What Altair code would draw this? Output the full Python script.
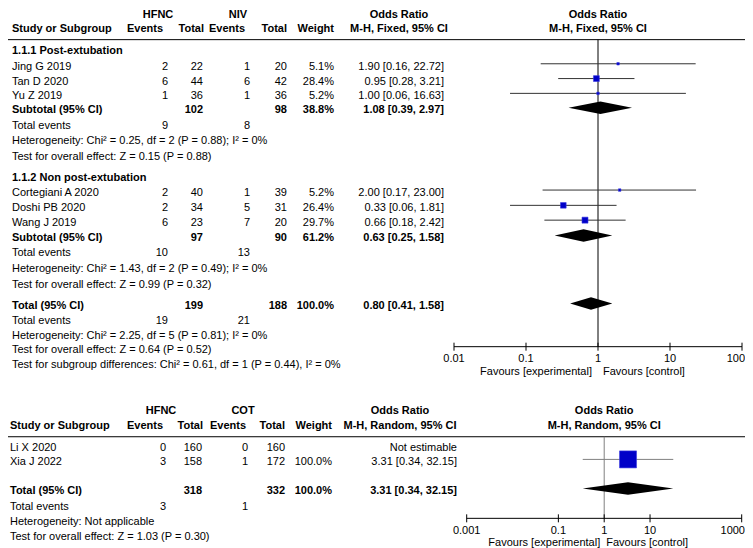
import altair as alt
import pandas as pd

# ---------------- data : comparison 1 (HFNC vs NIV) ----------------
subgroup_names = ["1.1.1 Post-extubation", "1.1.2 Non post-extubation"]
studies_1 = ["Jing G 2019", "Tan D 2020", "Yu Z 2019",
             "Cortegiani A 2020", "Doshi PB 2020", "Wang J 2019"]
subgroup_of_1 = [0, 0, 0, 1, 1, 1]
hfnc_events_1 = [2, 6, 1, 2, 2, 6]
hfnc_total_1 = [22, 44, 36, 40, 34, 23]
niv_events_1 = [1, 6, 1, 1, 5, 7]
niv_total_1 = [20, 42, 36, 39, 31, 20]
weight_1 = [5.1, 28.4, 5.2, 5.2, 26.4, 29.7]
or_1 = [1.90, 0.95, 1.00, 2.00, 0.33, 0.66]
lo_1 = [0.16, 0.28, 0.06, 0.17, 0.06, 0.18]
hi_1 = [22.72, 3.21, 16.63, 23.00, 1.81, 2.42]

sub_hfnc_total = [102, 97]
sub_niv_total = [98, 90]
sub_weight = [38.8, 61.2]
sub_or = [1.08, 0.63]
sub_lo = [0.39, 0.25]
sub_hi = [2.97, 1.58]
sub_hfnc_events = [9, 10]
sub_niv_events = [8, 13]
sub_het = ["Heterogeneity: Chi² = 0.25, df = 2 (P = 0.88); I² = 0%",
           "Heterogeneity: Chi² = 1.43, df = 2 (P = 0.49); I² = 0%"]
sub_test = ["Test for overall effect: Z = 0.15 (P = 0.88)",
            "Test for overall effect: Z = 0.99 (P = 0.32)"]

total1 = dict(hfnc_total=199, niv_total=188, weight=100.0, orr=0.80, lo=0.41, hi=1.58,
              hfnc_events=19, niv_events=21)
total1_het = "Heterogeneity: Chi² = 2.25, df = 5 (P = 0.81); I² = 0%"
total1_test = "Test for overall effect: Z = 0.64 (P = 0.52)"
total1_sgdiff = "Test for subgroup differences: Chi² = 0.61, df = 1 (P = 0.44), I² = 0%"
ticks_1 = [0.01, 0.1, 1, 10, 100]
tick_labels_1 = ["0.01", "0.1", "1", "10", "100"]

# ---------------- data : comparison 2 (HFNC vs COT) ----------------
studies_2 = ["Li X 2020", "Xia J 2022"]
hfnc_events_2 = [0, 3]
hfnc_total_2 = [160, 158]
cot_events_2 = [0, 1]
cot_total_2 = [160, 172]
weight_2 = [None, 100.0]
or_2 = [None, 3.31]
lo_2 = [None, 0.34]
hi_2 = [None, 32.15]
total2 = dict(hfnc_total=318, cot_total=332, weight=100.0, orr=3.31, lo=0.34, hi=32.15,
              hfnc_events=3, cot_events=1)
total2_het = "Heterogeneity: Not applicable"
total2_test = "Test for overall effect: Z = 1.03 (P = 0.30)"
ticks_2 = [0.001, 0.1, 1, 10, 1000]
tick_labels_2 = ["0.001", "0.1", "1", "10", "1000"]

# ---------------- layout (pixels) ----------------
W, H = 737, 540
FONT = "Liberation Sans"
FS = 11
BLUE = "#0000C8"


def px(x):
    return x - 8


def py(y):
    # reference-picture y -> plot y (page margin of 8px forces a small squeeze)
    return 5.3 + (y - 4.8) * 0.9866


pyt = py
pyb = py

PXS = alt.Scale(domain=[0, W], zero=False, nice=False)
PYS = alt.Scale(domain=[0, H], zero=False, nice=False, reverse=True)
LOG_T = alt.Scale(type="log", domain=[0.01, 100], range=[px(454), px(742)], nice=False)
LOG_B = alt.Scale(type="log", domain=[0.001, 1000], range=[px(466.7), px(741.7)], nice=False)

CT = dict(label=12, ev1=168, tot1=203, ev2=250, tot2=287, wt=334, ortxt=444,
          h_ev1=163, h_tot1=204, h_ev2=245, h_tot2=287, h_wt=334, grp1=158, grp2=238, orh=399)
CB = dict(label=10, ev1=166, tot1=202, ev2=248, tot2=285, wt=332, ortxt=457,
          h_ev1=163, h_tot1=203, h_ev2=246, h_tot2=285, h_wt=332, grp1=161, grp2=243, orh=400)

YT = dict(h1=6.6, h2=21, rule=31.5, sg=[43, 171.5], studies=[59, 74, 89, 187, 202.5, 217.5],
          sub=[103, 232.5], te=[119, 248], het=[134.5, 264], test=[150, 280.5],
          tot=301.5, tte=316.5, thet=331.5, ttest=346.5, tsd=361.5,
          axis=342.7, ticklab=355, fav=368.3)
YB = dict(h1=407.5, h2=423.3, rule=434, studies=[445, 460], tot=489, tte=505, thet=520.5,
          ttest=536, axis=516.7, ticklab=530, fav=541.7)
MK = -3.0     # marker offset from text line
DM = -2.5     # diamond offset
DH = 6.3      # diamond half height

cells = []


def add(x, y, t, align="left", bold=False):
    if t is None:
        return
    cells.append(dict(x=x, y=y, t=str(t), align=align, bold=bold))


def ortxt(o, l, h):
    return f"{o:.2f} [{l:.2f}, {h:.2f}]"


# ---- top table ----
yt = pyt
add(px(CT["grp1"]), yt(YT["h1"]), "HFNC", "center", True)
add(px(CT["grp2"]), yt(YT["h1"]), "NIV", "center", True)
add(px(CT["orh"]), yt(YT["h1"]), "Odds Ratio", "center", True)
add(px(CT["label"]), yt(YT["h2"]), "Study or Subgroup", "left", True)
add(px(CT["h_ev1"]), yt(YT["h2"]), "Events", "right", True)
add(px(CT["h_tot1"]), yt(YT["h2"]), "Total", "right", True)
add(px(CT["h_ev2"]), yt(YT["h2"]), "Events", "right", True)
add(px(CT["h_tot2"]), yt(YT["h2"]), "Total", "right", True)
add(px(CT["h_wt"]), yt(YT["h2"]), "Weight", "right", True)
add(px(CT["orh"]), yt(YT["h2"]), "M-H, Fixed, 95% CI", "center", True)

for g in range(2):
    add(px(CT["label"]), yt(YT["sg"][g]), subgroup_names[g], "left", True)
for i, s in enumerate(studies_1):
    y = yt(YT["studies"][i])
    add(px(CT["label"]), y, s)
    add(px(CT["ev1"]), y, hfnc_events_1[i], "right")
    add(px(CT["tot1"]), y, hfnc_total_1[i], "right")
    add(px(CT["ev2"]), y, niv_events_1[i], "right")
    add(px(CT["tot2"]), y, niv_total_1[i], "right")
    add(px(CT["wt"]), y, f"{weight_1[i]:.1f}%", "right")
    add(px(CT["ortxt"]), y, ortxt(or_1[i], lo_1[i], hi_1[i]), "right")
for g in range(2):
    y = yt(YT["sub"][g])
    add(px(CT["label"]), y, "Subtotal (95% CI)", "left", True)
    add(px(CT["tot1"]), y, sub_hfnc_total[g], "right", True)
    add(px(CT["tot2"]), y, sub_niv_total[g], "right", True)
    add(px(CT["wt"]), y, f"{sub_weight[g]:.1f}%", "right", True)
    add(px(CT["ortxt"]), y, ortxt(sub_or[g], sub_lo[g], sub_hi[g]), "right", True)
    y = yt(YT["te"][g])
    add(px(CT["label"]), y, "Total events")
    add(px(CT["ev1"]), y, sub_hfnc_events[g], "right")
    add(px(CT["ev2"]), y, sub_niv_events[g], "right")
    add(px(CT["label"]), yt(YT["het"][g]), sub_het[g])
    add(px(CT["label"]), yt(YT["test"][g]), sub_test[g])
y = yt(YT["tot"])
add(px(CT["label"]), y, "Total (95% CI)", "left", True)
add(px(CT["tot1"]), y, total1["hfnc_total"], "right", True)
add(px(CT["tot2"]), y, total1["niv_total"], "right", True)
add(px(CT["wt"]), y, f"{total1['weight']:.1f}%", "right", True)
add(px(CT["ortxt"]), y, ortxt(total1["orr"], total1["lo"], total1["hi"]), "right", True)
y = yt(YT["tte"])
add(px(CT["label"]), y, "Total events")
add(px(CT["ev1"]), y, total1["hfnc_events"], "right")
add(px(CT["ev2"]), y, total1["niv_events"], "right")
add(px(CT["label"]), yt(YT["thet"]), total1_het)
add(px(CT["label"]), yt(YT["ttest"]), total1_test)
add(px(CT["label"]), yt(YT["tsd"]), total1_sgdiff)

# ---- bottom table ----
yb = pyb
add(px(CB["grp1"]), yb(YB["h1"]), "HFNC", "center", True)
add(px(CB["grp2"]), yb(YB["h1"]), "COT", "center", True)
add(px(CB["orh"]), yb(YB["h1"]), "Odds Ratio", "center", True)
add(px(CB["label"]), yb(YB["h2"]), "Study or Subgroup", "left", True)
add(px(CB["h_ev1"]), yb(YB["h2"]), "Events", "right", True)
add(px(CB["h_tot1"]), yb(YB["h2"]), "Total", "right", True)
add(px(CB["h_ev2"]), yb(YB["h2"]), "Events", "right", True)
add(px(CB["h_tot2"]), yb(YB["h2"]), "Total", "right", True)
add(px(CB["h_wt"]), yb(YB["h2"]), "Weight", "right", True)
add(px(CB["orh"]), yb(YB["h2"]), "M-H, Random, 95% CI", "center", True)
for i, s in enumerate(studies_2):
    y = yb(YB["studies"][i])
    add(px(CB["label"]), y, s)
    add(px(CB["ev1"]), y, hfnc_events_2[i], "right")
    add(px(CB["tot1"]), y, hfnc_total_2[i], "right")
    add(px(CB["ev2"]), y, cot_events_2[i], "right")
    add(px(CB["tot2"]), y, cot_total_2[i], "right")
    if weight_2[i] is not None:
        add(px(CB["wt"]), y, f"{weight_2[i]:.1f}%", "right")
        add(px(CB["ortxt"]), y, ortxt(or_2[i], lo_2[i], hi_2[i]), "right")
    else:
        add(px(CB["ortxt"]), y, "Not estimable", "right")
y = yb(YB["tot"])
add(px(CB["label"]), y, "Total (95% CI)", "left", True)
add(px(CB["tot1"]), y, total2["hfnc_total"], "right", True)
add(px(CB["tot2"]), y, total2["cot_total"], "right", True)
add(px(CB["wt"]), y, f"{total2['weight']:.1f}%", "right", True)
add(px(CB["ortxt"]), y, ortxt(total2["orr"], total2["lo"], total2["hi"]), "right", True)
y = yb(YB["tte"])
add(px(CB["label"]), y, "Total events")
add(px(CB["ev1"]), y, total2["hfnc_events"], "right")
add(px(CB["ev2"]), y, total2["cot_events"], "right")
add(px(CB["label"]), yb(YB["thet"]), total2_het)
add(px(CB["label"]), yb(YB["ttest"]), total2_test)

cells_df = pd.DataFrame(cells)

Y = lambda f="y": alt.Y(f"{f}:Q", scale=PYS, axis=None)


def text_layer(df, align, bold, xscale=PXS, dx=0, yfield="y"):
    return alt.Chart(df).mark_text(
        align=align, baseline="middle", font=FONT, fontSize=FS,
        fontWeight="bold" if bold else "normal", color="black", dx=dx
    ).encode(x=alt.X("x:Q", scale=xscale, axis=None), y=Y(yfield), text="t:N")


layers = []

# header rules
rules_df = pd.DataFrame({"y": [pyt(YT["rule"]), pyb(YB["rule"])]})
layers.append(alt.Chart(rules_df).mark_rule(color="black", strokeWidth=1).encode(
    x=alt.value(0), x2=alt.value(W), y=Y()))


def forest(scale, x_right, y_rule, y_axis, st_or, st_lo, st_hi, st_w, st_y,
           sm_or, sm_lo, sm_hi, sm_y, ticks, tick_labels, y_tick, y_fav,
           null_color, ci_color, size_max, hdr1, hdr2, y_h1, y_h2, fav_dx):
    out = []
    # null line
    out.append(alt.Chart(pd.DataFrame({"x": [1], "y": [y_rule], "y2": [y_axis]})).mark_rule(
        color=null_color, strokeWidth=1).encode(
        x=alt.X("x:Q", scale=scale, axis=None), y=Y(), y2="y2:Q"))
    # CIs
    st = pd.DataFrame({"o": st_or, "l": st_lo, "h": st_hi, "w": st_w, "y": st_y}).dropna()
    st["ym"] = st["y"] + MK
    out.append(alt.Chart(st).mark_rule(color=ci_color, strokeWidth=1).encode(
        x=alt.X("l:Q", scale=scale, axis=None), x2="h:Q", y=Y("ym")))
    out.append(alt.Chart(st).mark_square(filled=True, color=BLUE, opacity=1,
                                         stroke="#3a3ae0", strokeWidth=0.6).encode(
        x=alt.X("o:Q", scale=scale, axis=None), y=Y("ym"),
        size=alt.Size("w:Q", scale=alt.Scale(domain=[0, 100], range=[0, size_max]), legend=None)))
    # diamonds
    rows = []
    for k, (o, l, h, yy) in enumerate(zip(sm_or, sm_lo, sm_hi, sm_y)):
        yc = yy + DM
        rows += [dict(id=k, x=l, y=yc, y2=yc), dict(id=k, x=o, y=yc - DH, y2=yc + DH),
                 dict(id=k, x=h, y=yc, y2=yc)]
    out.append(alt.Chart(pd.DataFrame(rows)).mark_area(color="black", opacity=1).encode(
        x=alt.X("x:Q", scale=scale, axis=None), y=Y(), y2="y2:Q", detail="id:N"))
    # axis
    out.append(alt.Chart(pd.DataFrame({"x": [min(ticks)], "x2": [max(ticks)], "y": [y_axis]}))
               .mark_rule(color="black", strokeWidth=1).encode(
        x=alt.X("x:Q", scale=scale, axis=None), x2="x2:Q", y=Y()))
    tdf = pd.DataFrame({"x": ticks, "t": tick_labels})
    tdf["y"] = y_axis - 4
    tdf["y2"] = y_axis + 4
    tdf["yl"] = y_tick
    out.append(alt.Chart(tdf).mark_rule(color="black", strokeWidth=1).encode(
        x=alt.X("x:Q", scale=scale, axis=None), y=Y(), y2="y2:Q"))
    inner = tdf.iloc[:-1].reset_index(drop=True)
    last = tdf.iloc[-1:].reset_index(drop=True)
    out.append(text_layer(inner, "center", False, scale, yfield="yl"))
    # last label kept inside the page edge
    out.append(text_layer(last, "right", False, scale, dx=W - x_right, yfield="yl"))
    # favours
    fav = pd.DataFrame({"x": [1], "y": [y_fav], "t": ["Favours [experimental]"]})
    out.append(text_layer(fav, "right", False, scale, dx=-fav_dx[0]))
    fav2 = pd.DataFrame({"x": [1], "y": [y_fav], "t": ["Favours [control]"]})
    out.append(text_layer(fav2, "left", False, scale, dx=fav_dx[1]))
    # header
    hd = pd.DataFrame({"x": [1, 1], "y": [y_h1, y_h2], "t": [hdr1, hdr2]})
    out.append(text_layer(hd, "center", True, scale))
    return out


layers += forest(LOG_T, px(742), pyt(YT["rule"]), pyt(YT["axis"]),
                 or_1, lo_1, hi_1, weight_1, [pyt(v) for v in YT["studies"]],
                 sub_or + [total1["orr"]], sub_lo + [total1["lo"]], sub_hi + [total1["hi"]],
                 [pyt(v) for v in YT["sub"]] + [pyt(YT["tot"])],
                 ticks_1, tick_labels_1, pyt(YT["ticklab"]), pyt(YT["fav"]),
                 "black", "#333333", 121, "Odds Ratio", "M-H, Fixed, 95% CI",
                 pyt(YT["h1"]), pyt(YT["h2"]), (6, 5))
layers += forest(LOG_B, px(741.7), pyb(YB["rule"]), pyb(YB["axis"]),
                 or_2, lo_2, hi_2, weight_2, [pyb(v) for v in YB["studies"]],
                 [total2["orr"]], [total2["lo"]], [total2["hi"]], [pyb(YB["tot"])],
                 ticks_2, tick_labels_2, pyb(YB["ticklab"]), pyb(YB["fav"]),
                 "#808080", "#808080", 289, "Odds Ratio", "M-H, Random, 95% CI",
                 pyb(YB["h1"]), pyb(YB["h2"]), (4, 2))

for (al, bd), g in cells_df.groupby(["align", "bold"]):
    layers.append(text_layer(g[["x", "y", "t"]].reset_index(drop=True), al, bool(bd)))

chart = alt.layer(*layers).resolve_scale(x="independent", size="independent").properties(
    width=W, height=H, padding=0, autosize=alt.AutoSizeParams(type="none"),
    background="white"
).configure_view(stroke=None)

chart.save("out.html", embed_options={"renderer": "svg", "actions": False})
